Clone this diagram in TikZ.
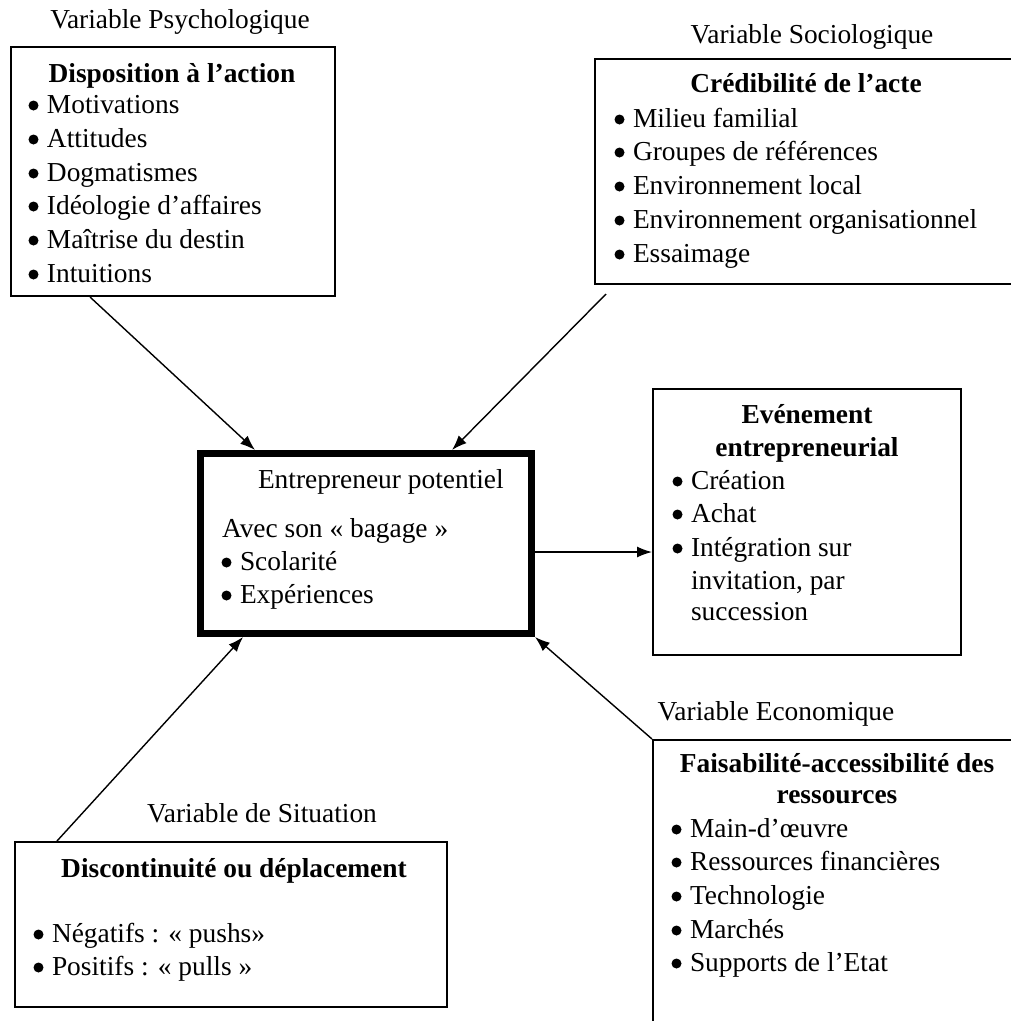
\documentclass[tikz,border=0pt]{standalone}
\usepackage{fontspec}
\setmainfont{Liberation Serif}
\usetikzlibrary{arrows.meta,calc}
\newcommand{\bul}{\makebox[20pt][l]{\hspace{1.5pt}\raisebox{2.5pt}{\tikz\fill (0pt,0pt) circle (5pt);}}}
\begin{document}
\begin{tikzpicture}[x=1pt,y=-1pt,
  txt/.style={inner sep=0pt, outer sep=0pt, font=\fontsize{27.4}{34}\selectfont},
  lbl/.style={txt, anchor=base},
  ttl/.style={txt, anchor=base, font=\fontsize{27.4}{34}\selectfont\bfseries},
  itm/.style={txt, anchor=base west},
  box/.style={draw, line width=2pt, anchor=north west, inner sep=0pt},
  arr/.style={-{Latex[length=15pt,width=11pt]}, line width=1.4pt}]
\useasboundingbox (0,0) rectangle (1011,1021);
\clip (0,0) rectangle (1011,1021);

% boxes
\node[box, minimum width=324pt, minimum height=249pt] (psy) at (10,46) {};
\node[box, minimum width=440pt, minimum height=225pt] (soc) at (594,58) {};
\node[box, minimum width=308pt, minimum height=266pt] (ev) at (652,388) {};
\node[box, minimum width=432pt, minimum height=165pt] (sit) at (14,841) {};
\node[box, minimum width=400pt, minimum height=400pt] (eco) at (652,739) {};
\node[box, line width=7pt, minimum width=331pt, minimum height=180pt] (ent) at (197,450) {};

% arrows
\draw[arr] ($(psy.south west)+(80,0)$) -- ($(ent.north west)+(58,0)$);
\draw[arr] ($(soc.south west)+(12,9)$) -- ($(ent.north west)+(255,0)$);
\draw[arr] ($(ent.east)+(0,8.5)$) -- ($(ev.west)+(0,30)$);
\draw[arr] ($(sit.north west)+(43,0)$) -- ($(ent.south west)+(46,0)$);
\draw[arr] (eco.north west) -- (ent.south east);

% variable labels
\node[lbl] (lpsy) at (180,28) {Variable Psychologique};
\node[lbl] (lsoc) at (812,43) {Variable Sociologique};
\node[lbl] (leco) at (776,720) {Variable Economique};
\node[lbl] (lsit) at (262,822) {Variable de Situation};

% box 1
\node[ttl] (tpsy) at (172,82) {Disposition à l’action};
\node[itm] (p1) at (27,113) {\bul Motivations};
\node[itm] (p2) at (27,147) {\bul Attitudes};
\node[itm] (p3) at (27,181) {\bul Dogmatismes};
\node[itm] (p4) at (27,214) {\bul Idéologie d’affaires};
\node[itm] (p5) at (27,248) {\bul Maîtrise du destin};
\node[itm] (p6) at (27,282) {\bul Intuitions};

% box 2
\node[ttl] (tsoc) at (806,92) {Crédibilité de l’acte};
\node[itm] (s1) at (613,127) {\bul Milieu familial};
\node[itm] (s2) at (613,160) {\bul Groupes de références};
\node[itm] (s3) at (613,194) {\bul Environnement local};
\node[itm] (s4) at (613,228) {\bul Environnement organisationnel};
\node[itm] (s5) at (613,262) {\bul Essaimage};

% centre
\node[itm] (e0) at (258,488) {Entrepreneur potentiel};
\node[itm] (e1) at (222,537) {Avec son « bagage »};
\node[itm] (e2) at (220,570) {\bul Scolarité};
\node[itm] (e3) at (220,603) {\bul Expériences};

% evenement
\node[ttl] (tev1) at (807,423) {Evénement};
\node[ttl] (tev2) at (807,456) {entrepreneurial};
\node[itm] (v1) at (671,489) {\bul Création};
\node[itm] (v2) at (671,522) {\bul Achat};
\node[itm] (v3) at (671,556) {\bul Intégration sur};
\node[itm] (v4) at (691,589) {invitation, par};
\node[itm] (v5) at (691,620) {succession};

% economique
\node[ttl] (teco1) at (837,772) {Faisabilité-accessibilité des};
\node[ttl] (teco2) at (837,803) {ressources};
\node[itm] (c1) at (670,837) {\bul Main-d’œuvre};
\node[itm] (c2) at (670,870) {\bul Ressources financières};
\node[itm] (c3) at (670,904) {\bul Technologie};
\node[itm] (c4) at (670,938) {\bul Marchés};
\node[itm] (c5) at (670,971) {\bul Supports de l’Etat};

% situation
\node[ttl] (tsit) at (234,877) {Discontinuité ou déplacement};
\node[itm] (d1) at (32,942) {\bul Négatifs : « pushs»};
\node[itm] (d2) at (32,975) {\bul Positifs : « pulls »};
\end{tikzpicture}
\end{document}
